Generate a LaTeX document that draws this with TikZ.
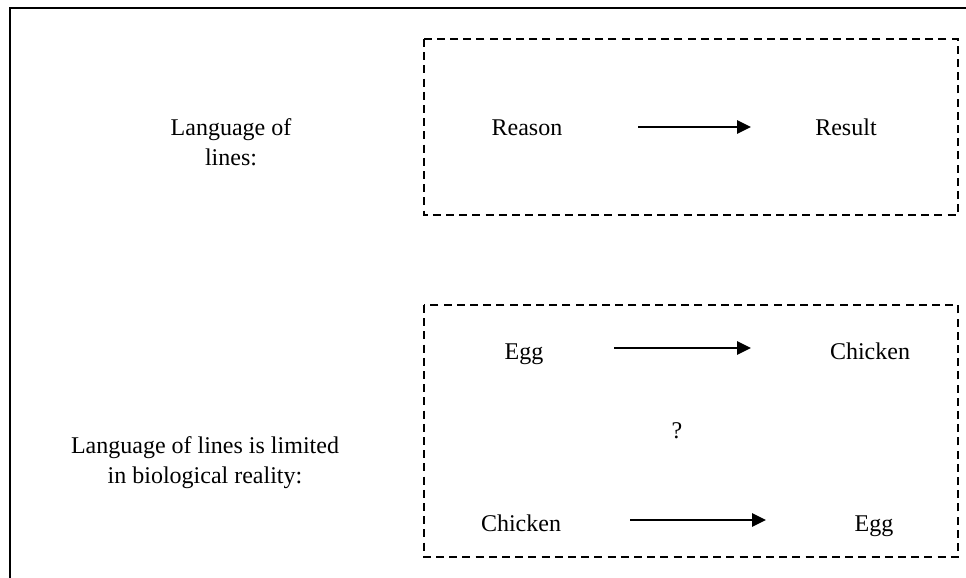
\documentclass[tikz,border=0pt]{standalone}
\usepackage{fontspec}
\setmainfont{Liberation Serif}
\usetikzlibrary{arrows.meta}
\begin{document}
\begin{tikzpicture}[x=0.5pt,y=-0.5pt,
  lbl/.style={font=\fontsize{12}{15}\selectfont, inner sep=0pt, align=center, text height=8pt, text depth=2.5pt},
  mlbl/.style={font=\fontsize{12}{15}\selectfont, inner sep=0pt, align=center},
  dbox/.style={draw, line width=0.8pt, dash pattern=on 4pt off 2.6pt},
  arr/.style={-{Triangle[length=7pt,width=6.5pt]}, line width=1.4pt},
  frame/.style={line width=1pt}]
\useasboundingbox (0,0) rectangle (966,578);
% outer frame (only top and left visible)
\coordinate (ftr) at (966,8);
\coordinate (ftl) at (10,8);
\coordinate (fbl) at (10,578);
\draw[frame] (ftr) -- (ftl) -- (fbl);
% dashed boxes
\draw[dbox] (424,39) rectangle (958,215);
\draw[dbox] (424,305) rectangle (958,557);
% left labels
\node[mlbl] (l1) at (231,142) {Language of\\lines:};
\node[mlbl] (l2) at (205,463) {Language of lines is limited\\in biological reality:};
% box 1
\node[lbl] (reason) at (527,130) {Reason};
\node[lbl] (result) at (846,130) {Result};
\coordinate (a1s) at (638,127);
\coordinate (a1e) at (751,127);
\draw[arr] (a1s) -- (a1e);
% box 2
\node[lbl] (egg1) at (524,354) {Egg};
\node[lbl] (chick1) at (870,354) {Chicken};
\coordinate (a2s) at (614,348);
\coordinate (a2e) at (751,348);
\draw[arr] (a2s) -- (a2e);
\node[lbl] (q) at (677,433) {?};
\node[lbl] (chick2) at (521,526) {Chicken};
\node[lbl] (egg2) at (874,526) {Egg};
\coordinate (a3s) at (630,520);
\coordinate (a3e) at (766,520);
\draw[arr] (a3s) -- (a3e);
\end{tikzpicture}
\end{document}
